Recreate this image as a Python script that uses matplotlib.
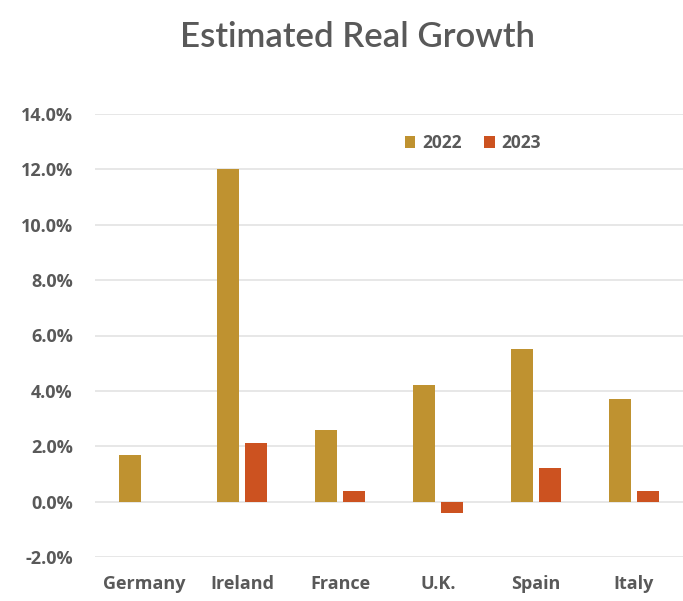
import matplotlib.pyplot as plt
import numpy as np

countries = ["Germany", "Ireland", "France", "U.K.", "Spain", "Italy"]
growth_2022 = [1.7, 12.0, 2.6, 4.2, 5.5, 3.7]
growth_2023 = [np.nan, 2.1, 0.4, -0.4, 1.2, 0.4]

plt.rcParams['font.family'] = ['Open Sans', 'DejaVu Sans']
grey = '#595959'

fig = plt.figure(figsize=(6.83, 6.01), dpi=100)
ax = fig.add_axes([95 / 683, 1 - 557 / 601, 588 / 683, (557 - 114) / 601])

x = np.arange(len(countries))
w = 0.22
ax.bar(x - 0.145, growth_2022, w, color='#BF9230', label='2022', zorder=3)
ax.bar(x + 0.145, growth_2023, w, color='#CC5220', label='2023', zorder=3)

ax.set_xlim(-0.5, 5.5)
ax.set_ylim(-2, 14)
ax.set_yticks(np.arange(-2, 15, 2))
ax.set_yticklabels([f"{v:.1f}%" for v in np.arange(-2, 15, 2)])
ax.set_xticks(x)
ax.set_xticklabels(countries)
ax.tick_params(length=0, labelsize=13, labelcolor=grey)
ax.tick_params(axis='y', pad=16)
ax.tick_params(axis='x', pad=13)
for t in ax.get_xticklabels() + ax.get_yticklabels():
    t.set_fontweight('bold')

ax.grid(axis='y', color='#E3E3E3', lw=1.2, zorder=0)
for s in ax.spines.values():
    s.set_visible(False)

leg = ax.legend(loc='center', bbox_to_anchor=((473 - 95) / 588, 1 - (143 - 114) / 443),
                ncol=2, frameon=False, handlelength=0.6, handleheight=0.7,
                columnspacing=1.3, handletextpad=0.4, prop={'size': 12.5, 'weight': 'bold'})
for t in leg.get_texts():
    t.set_color(grey)

fig.text(358 / 683, 1 - 37 / 601, "Estimated Real Growth", ha='center', va='center',
         fontsize=25, color=grey, fontweight='semibold', family=['Lato', 'DejaVu Sans'])

fig.savefig('out.png', dpi=100)
